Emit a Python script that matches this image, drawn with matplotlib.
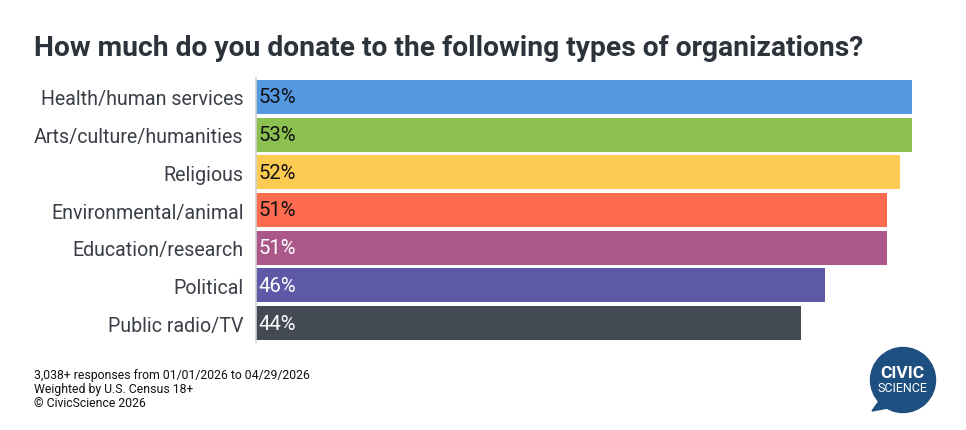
import matplotlib
matplotlib.use("Agg")
from matplotlib import pyplot as plt
from matplotlib.patches import Circle, Polygon

categories = ["Health/human services", "Arts/culture/humanities", "Religious",
              "Environmental/animal", "Education/research", "Political",
              "Public radio/TV"]
values = [53, 53, 52, 51, 51, 46, 44]
colors = ["#5599e3", "#8cc152", "#fecb52", "#fd6c4f", "#ab5789", "#5e59a6",
          "#434a54"]
text_colors = ["#111111", "#111111", "#111111", "#111111", "white", "white",
               "white"]
footer = ["3,038+ responses from 01/01/2026 to 04/29/2026",
          "Weighted by U.S. Census 18+",
          "\u00a9 CivicScience 2026"]

plt.rcParams["font.family"] = ["Roboto", "DejaVu Sans"]

fig = plt.figure(figsize=(9.66, 4.31), dpi=100)
W, H = 966, 431
ax = fig.add_axes([256 / W, 1 - 343 / H, (912 - 256) / W, (343 - 79) / H])

y = list(range(len(categories)))
ax.barh(y, values, height=0.9, color=colors, edgecolor="none")
ax.set_ylim(len(categories) - 0.5, -0.5)
ax.set_xlim(0, 53)
ax.set_yticks(y)
ax.set_yticklabels(categories, fontsize=14.1, color="#3a3f47")
ax.tick_params(axis="y", length=0, pad=9)
ax.set_xticks([])
for s in ["top", "right", "bottom"]:
    ax.spines[s].set_visible(False)
ax.spines["left"].set_color("#d0d0d0")
ax.spines["left"].set_linewidth(1.2)

for i, v in enumerate(values):
    ax.text(0.2, i, str(v) + "%", va="center", ha="left", fontsize=14.6,
            color=text_colors[i])

fig.text(34 / W, 1 - 48 / H, "How much do you donate to the following types of organizations?",
         fontsize=20.3, fontweight="bold", color="#2d333b", va="center")

for k, line in enumerate(footer):
    fig.text(34 / W, 1 - (376 + k * 14) / H, line, fontsize=8.8,
             color="#111111", va="center")

# logo
lax = fig.add_axes([0, 0, 1, 1])
lax.set_xlim(0, W)
lax.set_ylim(H, 0)
lax.axis("off")
logo = "#1d4f80"
lax.add_patch(Circle((903, 381), 32.5, color=logo))
lax.add_patch(Polygon([[882, 398], [872, 412], [893, 408]], color=logo))
lax.text(902, 374, "CIVIC", color="white", fontsize=12.5, fontweight="bold",
         ha="center", va="center")
lax.text(902, 389, "SCIENCE", color="white", fontsize=9, ha="center",
         va="center")

fig.savefig("out.png", dpi=100)
